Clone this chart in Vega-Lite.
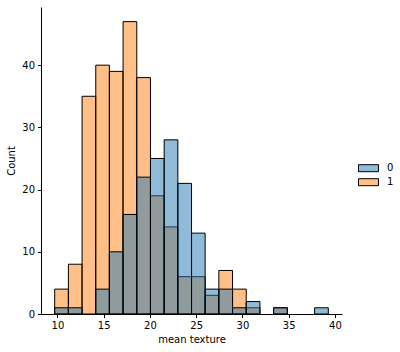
{
  "$schema": "https://vega.github.io/schema/vega-lite/v6.json",
  "autosize": {"type": "none"},
  "padding": {"left": 41, "top": 7, "right": 58, "bottom": 38},
  "width": 301,
  "height": 307,
  "background": "white",
  "config": {
    "view": {"stroke": null},
    "font": "DejaVu Sans",
    "axis": {
      "grid": false,
      "domainColor": "black",
      "domainWidth": 1,
      "tickColor": "black",
      "tickWidth": 1,
      "tickSize": 3.5,
      "labelColor": "black",
      "labelFontSize": 10,
      "labelFont": "DejaVu Sans",
      "labelPadding": 3,
      "titleColor": "black",
      "titleFontSize": 10,
      "titleFont": "DejaVu Sans",
      "titleFontWeight": "normal"
    }
  },
  "data": {
    "values": [
      {"target": "1", "start": 9.71, "end": 11.19, "count": 4},
      {"target": "1", "start": 11.19, "end": 12.67, "count": 8},
      {"target": "1", "start": 12.67, "end": 14.15, "count": 35},
      {"target": "1", "start": 14.15, "end": 15.62, "count": 40},
      {"target": "1", "start": 15.62, "end": 17.10, "count": 39},
      {"target": "1", "start": 17.10, "end": 18.58, "count": 47},
      {"target": "1", "start": 18.58, "end": 20.06, "count": 38},
      {"target": "1", "start": 20.06, "end": 21.54, "count": 19},
      {"target": "1", "start": 21.54, "end": 23.02, "count": 14},
      {"target": "1", "start": 23.02, "end": 24.50, "count": 6},
      {"target": "1", "start": 24.50, "end": 25.97, "count": 6},
      {"target": "1", "start": 25.97, "end": 27.45, "count": 3},
      {"target": "1", "start": 27.45, "end": 28.93, "count": 7},
      {"target": "1", "start": 28.93, "end": 30.41, "count": 4},
      {"target": "1", "start": 30.41, "end": 31.89, "count": 1},
      {"target": "1", "start": 33.37, "end": 34.85, "count": 1},
      {"target": "0", "start": 9.71, "end": 11.19, "count": 1},
      {"target": "0", "start": 11.19, "end": 12.67, "count": 1},
      {"target": "0", "start": 14.15, "end": 15.62, "count": 4},
      {"target": "0", "start": 15.62, "end": 17.10, "count": 10},
      {"target": "0", "start": 17.10, "end": 18.58, "count": 16},
      {"target": "0", "start": 18.58, "end": 20.06, "count": 22},
      {"target": "0", "start": 20.06, "end": 21.54, "count": 25},
      {"target": "0", "start": 21.54, "end": 23.02, "count": 28},
      {"target": "0", "start": 23.02, "end": 24.50, "count": 21},
      {"target": "0", "start": 24.50, "end": 25.97, "count": 13},
      {"target": "0", "start": 25.97, "end": 27.45, "count": 4},
      {"target": "0", "start": 27.45, "end": 28.93, "count": 4},
      {"target": "0", "start": 28.93, "end": 30.41, "count": 1},
      {"target": "0", "start": 30.41, "end": 31.89, "count": 2},
      {"target": "0", "start": 33.37, "end": 34.85, "count": 1},
      {"target": "0", "start": 37.80, "end": 39.28, "count": 1}
    ]
  },
  "encoding": {
    "x": {
      "field": "start", "type": "quantitative",
      "scale": {"domain": [8.23, 40.76], "nice": false, "zero": false},
      "axis": {"values": [10, 15, 20, 25, 30, 35, 40], "title": "mean texture", "titlePadding": 4}
    },
    "x2": {"field": "end"},
    "y": {
      "field": "count", "type": "quantitative",
      "scale": {"domain": [0, 49.35], "nice": false},
      "axis": {"values": [0, 10, 20, 30, 40], "title": "Count", "titlePadding": 5}
    },
    "y2": {"datum": 0},
    "color": {
      "field": "target", "type": "nominal",
      "scale": {"domain": ["0", "1"], "range": ["#1f77b4", "#ff7f0e"]},
      "legend": {
        "title": null,
        "orient": "none",
        "legendX": 319.5,
        "legendY": 153.2,
        "rowPadding": 0,
        "padding": 0,
        "symbolType": "M-1.333,-0.467H1.333V0.467H-1.333Z",
        "symbolSize": 225,
        "symbolStrokeColor": "black",
        "symbolStrokeWidth": 1,
        "labelOffset": 10.5,
        "labelFontSize": 10,
        "labelColor": "black",
        "labelFont": "DejaVu Sans",
        "encode": {"symbols": {"update": {"fillOpacity": {"value": 0.5}, "stroke": {"value": "black"}}}}
      }
    }
  },
  "layer": [
    {
      "transform": [{"filter": "datum.target === '1'"}],
      "mark": {"type": "bar", "fillOpacity": 0.5, "stroke": "black", "strokeWidth": 1, "strokeOpacity": 1}
    },
    {
      "transform": [{"filter": "datum.target === '0'"}],
      "mark": {"type": "bar", "fillOpacity": 0.5, "stroke": "black", "strokeWidth": 1, "strokeOpacity": 1}
    }
  ]
}
